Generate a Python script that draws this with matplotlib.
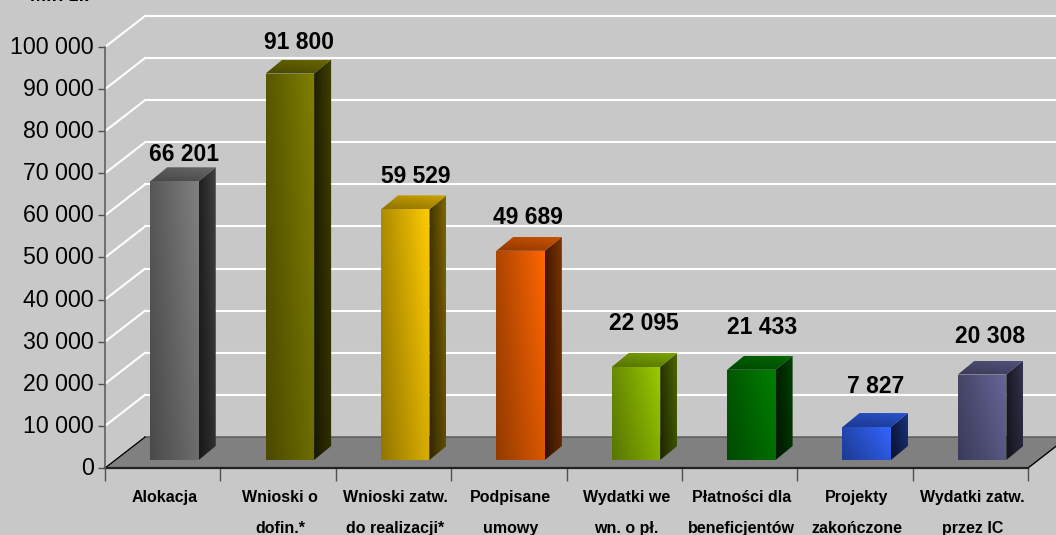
import numpy as np
import matplotlib
matplotlib.use('Agg')
import matplotlib.pyplot as plt
from matplotlib.patches import Polygon
from matplotlib.transforms import ScaledTranslation

categories = ['Alokacja', 'Wnioski o\ndofin.*', 'Wnioski zatw.\ndo realizacji*', 'Podpisane\numowy',
              'Wydatki we\nwn. o pł.', 'Płatności dla\nbeneficjentów', 'Projekty\nzakończone', 'Wydatki zatw.\nprzez IC']
values = [66201, 91800, 59529, 49689, 22095, 21433, 7827, 20308]
value_labels = ['66 201', '91 800', '59 529', '49 689', '22 095', '21 433', '7 827', '20 308']
colors = ['#808080', '#808000', '#FFCC00', '#FF6600', '#99CC00', '#008000', '#3366FF', '#666699']
yticks = [0, 10000, 20000, 30000, 40000, 50000, 60000, 70000, 80000, 90000, 100000]
ytick_labels = ['0', '10 000', '20 000', '30 000', '40 000', '50 000', '60 000', '70 000', '80 000', '90 000', '100 000']

# label nudges in pixels, relative to the front top of each bar
label_dx = [10, 9, 10.5, 7.5, 7.5, 11, 9, 7.5]
label_dy = [27, 31, 33, 33, 43, 42, 41, 38]

W, H = 1056, 535
plt.rcParams['font.family'] = ['Liberation Sans', 'DejaVu Sans']

fig = plt.figure(figsize=(W / 100, H / 100), dpi=100, facecolor='#C8C8C8')
ax = fig.add_axes([105 / W, (H - 468) / H, 923 / W, 421 / H], facecolor='none')
ax.set_xlim(-0.5, 7.5)
ax.set_ylim(0, 100000)

# pixels to data units
px = 8 / 923
py = 100000 / 421
wall_dx, wall_dy = 40 * px, 31 * py
depth_dx, depth_dy = 17 * px, 14 * py
bar_w = 48.5 * px
bar_dx = 11.8 * px
base = 8 * py


def shaded(poly, base_color, fx, fy, zorder):
    # gradient picture clipped to a polygon
    rgb = np.array(matplotlib.colors.to_rgb(base_color))
    xs = [p[0] for p in poly]
    ys = [p[1] for p in poly]
    gx, gy = np.meshgrid(np.linspace(fx[0], fx[1], 40), np.linspace(fy[0], fy[1], 40))
    img = np.clip((gx * gy)[..., None] * rgb, 0, 1)
    im = ax.imshow(img, extent=[min(xs), max(xs), min(ys), max(ys)], origin='lower',
                   aspect='auto', zorder=zorder, interpolation='bilinear')
    patch = Polygon(poly, closed=True, transform=ax.transData, facecolor='none', edgecolor='none')
    ax.add_patch(patch)
    im.set_clip_path(patch)


# walls
for y in yticks:
    ax.plot([-0.5, -0.5 + wall_dx], [y, y + wall_dy], color='white', lw=1.5, clip_on=False, zorder=1)
    ax.plot([-0.5 + wall_dx, 7.5 + wall_dx], [y + wall_dy, y + wall_dy], color='white', lw=1.5, clip_on=False, zorder=1)

# floor
floor = Polygon([(-0.5, 0), (-0.5 + wall_dx, wall_dy), (7.5 + wall_dx, wall_dy), (7.5, 0)],
                closed=True, facecolor='#808080', edgecolor='none', clip_on=False, zorder=2)
ax.add_patch(floor)
ax.plot([-0.5 + wall_dx, 7.5 + wall_dx], [wall_dy, wall_dy], color='#5C5C5C', lw=1.2, clip_on=False, zorder=2)
ax.plot([-0.5, -0.5 + wall_dx], [0, wall_dy], color='black', lw=1, clip_on=False, zorder=2)
ax.plot([7.5, 7.5 + wall_dx], [0, wall_dy], color='black', lw=1, clip_on=False, zorder=2)
ax.plot([-0.5, 7.5], [0, 0], color='#222222', lw=1.6, clip_on=False, zorder=2)

# bars
for i, v in enumerate(values):
    x0 = i + bar_dx - bar_w / 2
    x1 = x0 + bar_w
    y0, y1 = base, base + v
    c = colors[i]
    shaded([(x1, y0), (x1 + depth_dx, y0 + depth_dy), (x1 + depth_dx, y1 + depth_dy), (x1, y1)],
           c, (0.25, 0.5), (0.75, 1.0), 3)
    shaded([(x0, y1), (x1, y1), (x1 + depth_dx, y1 + depth_dy), (x0 + depth_dx, y1 + depth_dy)],
           c, (0.75, 0.85), (0.75, 0.95), 3)
    shaded([(x0, y0), (x1, y0), (x1, y1), (x0, y1)], c, (0.68, 1.0), (0.85, 1.0), 4)
    ax.text(i + bar_dx + label_dx[i] * px, y1 + label_dy[i] * py, value_labels[i],
            ha='center', va='center', fontsize=16.5, fontweight='bold', color='black', zorder=6)

ax.set_xlim(-0.5, 7.5)
ax.set_ylim(0, 100000)

for side in ['top', 'right', 'bottom']:
    ax.spines[side].set_visible(False)
ax.spines['left'].set_color('#606060')
ax.spines['left'].set_linewidth(1.2)

ax.set_yticks(yticks)
ax.set_yticklabels(ytick_labels, fontsize=16.7)
ax.tick_params(axis='y', length=5, width=1, color='#505050', pad=3, labelcolor='black')
# tick labels sit a little above their ticks
for lab in ax.get_yticklabels():
    lab.set_transform(lab.get_transform() + ScaledTranslation(0, 2 / 100, fig.dpi_scale_trans))

# category borders get the ticks, names sit between them
ax.set_xticks(np.arange(-0.5, 8, 1))
ax.set_xticklabels([])
ax.set_xticks(np.arange(8) + 2 * px, minor=True)
ax.set_xticklabels(categories, minor=True, fontsize=11.5, fontweight='bold', linespacing=2.3)
ax.tick_params(axis='x', which='major', length=9, width=1, color='#505050')
ax.tick_params(axis='x', which='minor', length=0, pad=16)

fig.text(30 / W, (H - 1) / H, 'Mln zł.', fontsize=14, fontweight='bold', va='baseline', color='black')

fig.savefig('out.png', dpi=100, facecolor=fig.get_facecolor())
